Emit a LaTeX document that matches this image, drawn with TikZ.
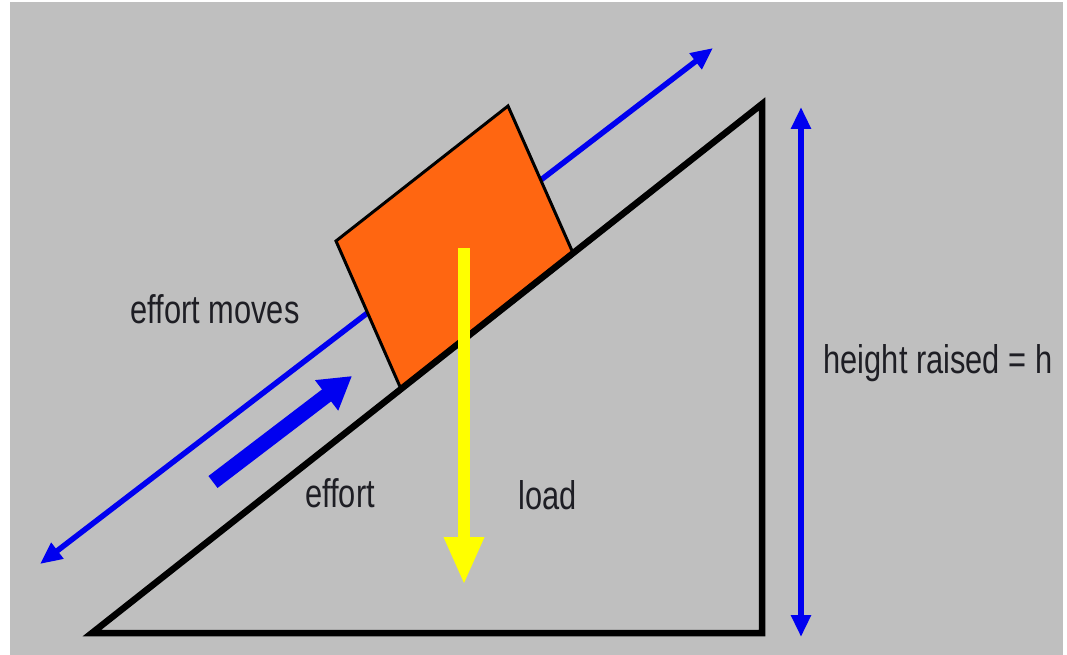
\documentclass[tikz,border=0pt]{standalone}
\usepackage{fontspec}
\setmainfont[FakeStretch=0.77]{Liberation Sans}
\usetikzlibrary{arrows.meta}
\definecolor{rampGray}{HTML}{BFBFBF}
\definecolor{rampBlue}{HTML}{0000F0}
\definecolor{rampOrange}{HTML}{FF6611}
\definecolor{rampYellow}{HTML}{FFFF00}
\definecolor{rampText}{HTML}{1E1E24}
\tikzset{
  ramp line/.style={draw=black, line width=6.5pt, miter limit=20},
  ramp block/.style={draw=black, fill=rampOrange, line width=3pt},
  ramp span/.style={draw=rampBlue, line width=5.5pt, {Triangle[length=22pt,width=19pt]}-{Triangle[length=22pt,width=19pt]}},
  ramp effort/.style={draw=rampBlue, line width=15pt, -{Triangle[length=32pt,width=36pt]}},
  ramp load/.style={draw=rampYellow, line width=12.5pt, -{Triangle[length=48pt,width=37pt]}},
  ramp label/.style={font=\fontsize{40}{44}\selectfont, text=rampText, inner sep=0pt},
}
\begin{document}
\begin{tikzpicture}[x=1pt,y=-1pt]
  \useasboundingbox (0,0) rectangle (1067,655);
  % grey panel, white margin left and right
  \fill[rampGray] (10,2) rectangle (1063,655);
  % end points of the arrows
  \coordinate (spanLow) at (40,564);
  \coordinate (spanHigh) at (713,48);
  \coordinate (riseTop) at (801,107);
  \coordinate (riseBottom) at (801,637);
  \coordinate (effortTail) at (213,482);
  \coordinate (effortTip) at (352,376);
  \coordinate (loadTail) at (464,248);
  \coordinate (loadTip) at (464,585);
  % travel arrow goes behind the block
  \draw[ramp span] (spanLow) -- (spanHigh);
  % block
  \draw[ramp block] (336,241) -- (508,106) -- (573,253) -- (401,389) -- cycle;
  % the slope
  \draw[ramp line] (92,633) -- (762,104) -- (762,633) -- cycle;
  % arrows on top
  \draw[ramp span] (riseBottom) -- (riseTop);
  \draw[ramp effort] (effortTail) -- (effortTip);
  \draw[ramp load] (loadTail) -- (loadTip);
  % labels
  \node[ramp label] (moves) at (215,309) {effort moves};
  \node[ramp label] (effort) at (340,493) {effort};
  \node[ramp label] (load) at (548,495) {load};
  \node[ramp label] (height) at (938,363) {height raised = h};
\end{tikzpicture}
\end{document}
